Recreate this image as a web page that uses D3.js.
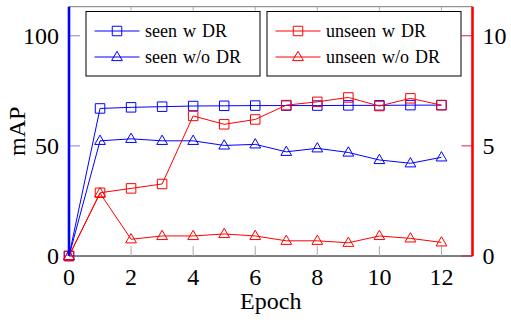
<!DOCTYPE html>
<html>
<head>
<meta charset="utf-8">
<script src="https://cdn.jsdelivr.net/npm/d3@7"></script>
<style>
  body { margin: 0; background: #fff; }
  svg text { font-family: 'Liberation Serif', 'Tinos', 'Times New Roman', 'DejaVu Serif', serif; }
</style>
</head>
<body>
<div id="chart"></div>
<script>
const epochs = [0, 1, 2, 3, 4, 5, 6, 7, 8, 9, 10, 11, 12];
const seenWithDR = [0, 67.0, 67.5, 67.8, 68.1, 68.2, 68.3, 68.3, 68.3, 68.4, 68.4, 68.5, 68.5];
const seenWithoutDR = [0, 52.3, 53.2, 52.3, 52.3, 50.2, 50.7, 47.3, 48.9, 47.0, 43.6, 42.1, 44.8];
const unseenWithDR = [0, 2.87, 3.07, 3.27, 6.36, 5.98, 6.2, 6.85, 7.0, 7.2, 6.81, 7.16, 6.85];
const unseenWithoutDR = [0, 2.85, 0.76, 0.91, 0.91, 1.0, 0.91, 0.69, 0.69, 0.6, 0.91, 0.8, 0.62];
const xTicks = [0, 2, 4, 6, 8, 10, 12];
const leftTicks = [0, 50, 100];
const rightTicks = [0, 5, 10];

const W = 511, H = 322;
const m = { left: 69, right: 38.5, top: 6.7, bottom: 66 };
const blue = '#0000ff', red = '#ff0000';
const serif = "'Liberation Serif', 'Times New Roman', 'DejaVu Serif', serif";

const svg = d3.select('#chart').append('svg')
  .attr('width', W).attr('height', H)
  .attr('font-family', serif);

const x = d3.scaleLinear().domain([0, 13]).range([m.left, W - m.right]);
const yL = d3.scaleLinear().domain([0, 113.2]).range([H - m.bottom, m.top]);
const yR = d3.scaleLinear().domain([0, 11.32]).range([H - m.bottom, m.top]);

const x0 = x.range()[0], x1 = x.range()[1];
const yb = yL.range()[0], yt = yL.range()[1];

// frame top/bottom
svg.append('line').attr('x1', x0).attr('x2', x1).attr('y1', yt).attr('y2', yt)
  .attr('stroke', '#555').attr('stroke-width', 0.8);
svg.append('line').attr('x1', x0).attr('x2', x1).attr('y1', yb).attr('y2', yb)
  .attr('stroke', '#000').attr('stroke-width', 1);

// x ticks (inner, bottom and top)
const xg = svg.append('g');
xTicks.forEach(t => {
  xg.append('line').attr('x1', x(t)).attr('x2', x(t)).attr('y1', yb).attr('y2', yb - 10)
    .attr('stroke', '#aaa').attr('stroke-width', 1);
  xg.append('line').attr('x1', x(t)).attr('x2', x(t)).attr('y1', yt).attr('y2', yt + 4)
    .attr('stroke', '#aaa').attr('stroke-width', 1);
  xg.append('text').attr('x', x(t)).attr('y', yb + 29)
    .attr('text-anchor', 'middle').attr('font-family', serif).style('font-size', '24px').attr('fill', '#000').text(t);
});

// left ticks
leftTicks.forEach(t => {
  svg.append('line').attr('x1', x0).attr('x2', x0 + 11).attr('y1', yL(t)).attr('y2', yL(t))
    .attr('stroke', '#7f7fff').attr('stroke-width', 1);
  svg.append('text').attr('x', x0 - 10).attr('y', yL(t) + 8)
    .attr('text-anchor', 'end').attr('font-family', serif).style('font-size', '24px').text(t);
});

// right ticks
rightTicks.forEach(t => {
  svg.append('line').attr('x1', x1).attr('x2', x1 - 11).attr('y1', yR(t)).attr('y2', yR(t))
    .attr('stroke', '#c8206a').attr('stroke-width', 1);
  svg.append('text').attr('x', x1 + 10).attr('y', yR(t) + 8)
    .attr('text-anchor', 'start').attr('font-family', serif).style('font-size', '24px').text(t);
});

// axis labels
svg.append('text').attr('transform', `translate(25,${(yt + yb) / 2}) rotate(-90)`)
  .attr('text-anchor', 'middle').attr('font-family', serif).style('font-size', '24px').text('mAP');
svg.append('text').attr('x', (x0 + x1) / 2).attr('y', 309)
  .attr('text-anchor', 'middle').attr('font-family', serif).style('font-size', '24px').text('Epoch');

// series
const series = [
  { name: 'seen w DR', values: seenWithDR, y: yL, color: blue, marker: 'square' },
  { name: 'seen w/o DR', values: seenWithoutDR, y: yL, color: blue, marker: 'triangle' },
  { name: 'unseen w DR', values: unseenWithDR, y: yR, color: red, marker: 'square' },
  { name: 'unseen w/o DR', values: unseenWithoutDR, y: yR, color: red, marker: 'triangle' }
];

const sq = d3.symbol().type(d3.symbolSquare).size(90);
const tri = d3.symbol().type(d3.symbolTriangle).size(50);

function drawMarker(g, kind, color) {
  g.append('path')
    .attr('d', kind === 'square' ? sq() : tri())
    .attr('transform', kind === 'square' ? null : 'translate(0,0.5)')
    .attr('fill', 'none').attr('stroke', color).attr('stroke-width', 1);
}

series.forEach(s => {
  const line = d3.line().x((d, i) => x(epochs[i])).y(d => s.y(d));
  svg.append('path').datum(s.values).attr('d', line)
    .attr('fill', 'none').attr('stroke', s.color).attr('stroke-width', 1);
  s.values.forEach((v, i) => {
    const g = svg.append('g').attr('transform', `translate(${x(epochs[i])},${s.y(v)})`);
    drawMarker(g, s.marker, s.color);
  });
});

// colored y axes
svg.append('line').attr('x1', x0).attr('x2', x0).attr('y1', yt).attr('y2', yb)
  .attr('stroke', blue).attr('stroke-width', 2.6);
svg.append('line').attr('x1', x1).attr('x2', x1).attr('y1', yt).attr('y2', yb)
  .attr('stroke', red).attr('stroke-width', 2.6);

// legends
const legends = [
  { x: 86, w: 174, items: series.slice(0, 2) },
  { x: 267, w: 194, items: series.slice(2, 4) }
];
legends.forEach(L => {
  const g = svg.append('g').attr('transform', `translate(${L.x},11.5)`);
  g.append('rect').attr('width', L.w).attr('height', 64.5)
    .attr('fill', '#fff').attr('stroke', '#000').attr('stroke-width', 1);
  L.items.forEach((s, j) => {
    const yy = 19.5 + j * 26;
    g.append('line').attr('x1', 8.5).attr('x2', 53.5).attr('y1', yy).attr('y2', yy)
      .attr('stroke', s.color).attr('stroke-width', 1);
    const mg = g.append('g').attr('transform', `translate(31,${yy})`);
    drawMarker(mg, s.marker, s.color);
    g.append('text').attr('x', 59).attr('y', yy + 6)
      .attr('font-family', serif)
      .style('font-size', '18px').style('word-spacing', '1.5px').text(s.name);
  });
});
</script>
</body>
</html>
